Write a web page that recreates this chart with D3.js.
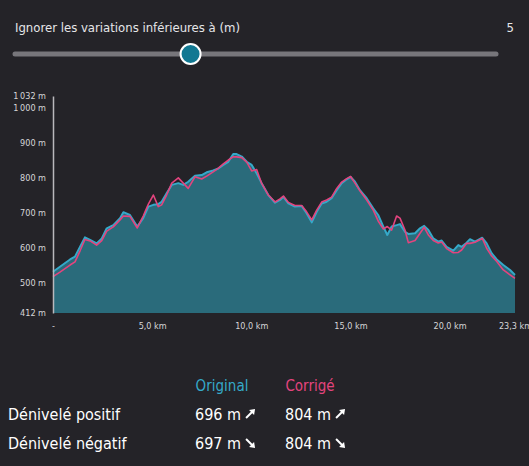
<!DOCTYPE html>
<html>
<head>
<meta charset="utf-8">
<script src="https://cdn.jsdelivr.net/npm/d3@7"></script>
<style>
  html, body { margin: 0; padding: 0; background: #242328; }
  svg { display: block; }
</style>
</head>
<body>
<div id="chart"></div>
<script>
// distances (km) of the profile samples
var distances = [0, 0.35, 0.86, 1.11, 1.36, 1.61, 1.87, 2.20, 2.46, 2.71, 3.04, 3.38, 3.55, 3.88, 4.25,
  4.55, 4.81, 5.06, 5.31, 5.48, 5.73, 5.99, 6.32, 6.57, 6.82, 7.16, 7.50, 7.75, 8.08, 8.34, 8.59, 8.84,
  9.09, 9.26, 9.52, 9.77, 10.02, 10.27, 10.52, 10.86, 11.20, 11.45, 11.62, 11.87, 12.20, 12.54, 12.79,
  13.05, 13.30, 13.55, 13.80, 14.05, 14.31, 14.56, 14.81, 15.01, 15.23, 15.48, 15.82, 16.15, 16.40,
  16.66, 16.86, 17.08, 17.33, 17.50, 17.75, 17.92, 18.26, 18.51, 18.72, 18.93, 19.18, 19.43, 19.60,
  19.85, 20.19, 20.44, 20.61, 20.86, 21.03, 21.28, 21.65, 21.87, 22.12, 22.38, 22.71, 23.05, 23.30];

// altitude (m), original profile
var original = [530, 544, 565, 573, 601, 628, 621, 611, 625, 654, 663, 683, 700, 692, 659,
  683, 716, 721, 723, 730, 754, 778, 783, 778, 787, 804, 806, 814, 819, 825, 835, 844,
  866, 866, 859, 844, 835, 811, 783, 749, 727, 735, 744, 725, 716, 718, 697,
  671, 701, 725, 730, 740, 763, 783, 794, 801, 787, 763, 740, 711, 692,
  659, 635, 659, 663, 666, 644, 638, 640, 654, 661, 649, 625, 616, 619,
  601, 590, 606, 601, 613, 623, 616, 627, 611, 583, 565, 549, 535, 521];

// altitude (m), corrected profile
var corrige = [516, 529, 549, 558, 589, 622, 618, 606, 619, 646, 658, 678, 689, 688, 655,
  689, 723, 749, 716, 721, 749, 783, 798, 783, 768, 801, 795, 803, 815, 826, 838, 849,
  858, 858, 856, 843, 818, 822, 783, 749, 729, 738, 746, 728, 719, 719, 701,
  678, 706, 729, 735, 743, 768, 786, 796, 802, 783, 761, 735, 706, 675,
  652, 659, 649, 689, 683, 649, 613, 619, 640, 657, 635, 619, 612, 615,
  596, 584, 585, 592, 611, 611, 614, 625, 597, 575, 559, 535, 521, 511];

var yTicks = [412, 500, 600, 700, 800, 900, 1000, 1032];
var xTicks = [0, 5, 10, 15, 20, 23.3];

var sliderLabel = 'Ignorer les variations inférieures à (m)';
var sliderValue = 5;
var sliderMax = 20;

var statRows = ['Dénivelé positif', 'Dénivelé négatif'];
var statOriginal = [696, 697];
var statCorrige = [804, 804];

var width = 529;
var height = 466;
var bg = '#242328';
var blue = '#35a9c9';
var pink = '#e3447e';
var areaColor = '#2a6b7b';
var font = '"DejaVu Sans Condensed", "DejaVu Sans", sans-serif';

var fr = d3.formatLocale({ decimal: ',', thousands: '\u202f', grouping: [3], currency: ['', ' €'] });

var svg = d3.select('#chart')
  .append('svg')
  .attr('width', width)
  .attr('height', height)
  .style('background', bg);

// slider
var sx = d3.scaleLinear().domain([0, sliderMax]).range([15, 496]);
svg.append('text')
  .attr('x', 15)
  .attr('y', 32)
  .attr('fill', '#e6e6e8')
  .style('font-family', font)
  .style('font-size', '13px')
  .text(sliderLabel);
svg.append('text')
  .attr('x', 514)
  .attr('y', 32)
  .attr('text-anchor', 'end')
  .attr('fill', '#e6e6e8')
  .style('font-family', font)
  .style('font-size', '13px')
  .text(sliderValue);
svg.append('line')
  .attr('x1', sx(0)).attr('x2', sx(sliderMax))
  .attr('y1', 54).attr('y2', 54)
  .attr('stroke', '#77767b')
  .attr('stroke-width', 5)
  .attr('stroke-linecap', 'round');
svg.append('circle')
  .attr('cx', sx(7.3))
  .attr('cy', 54)
  .attr('r', 10)
  .attr('fill', '#117892')
  .attr('stroke', '#fff')
  .attr('stroke-width', 2);

// profile
var x = d3.scaleLinear().domain([0, 23.3]).range([53, 515]);
var y = d3.scaleLinear().domain([412, 1032]).range([313, 96]);

var profil = distances.map(function (d, i) {
  return { km: d, o: original[i], c: corrige[i] };
});

svg.append('path')
  .datum(profil)
  .attr('fill', areaColor)
  .attr('d', d3.area()
    .x(function (d) { return x(d.km); })
    .y0(y(412))
    .y1(function (d) { return y(d.o); }));

svg.append('path')
  .datum(profil)
  .attr('fill', 'none')
  .attr('stroke', blue)
  .attr('stroke-width', 2)
  .attr('stroke-linejoin', 'round')
  .attr('d', d3.line()
    .x(function (d) { return x(d.km); })
    .y(function (d) { return y(d.o); }));

svg.append('path')
  .datum(profil)
  .attr('fill', 'none')
  .attr('stroke', pink)
  .attr('stroke-width', 1.6)
  .attr('stroke-linejoin', 'round')
  .attr('d', d3.line()
    .x(function (d) { return x(d.km); })
    .y(function (d) { return y(d.c); }));

// axes
var yAxis = d3.axisLeft(y)
  .tickValues(yTicks)
  .tickSize(0)
  .tickPadding(7)
  .tickFormat(function (d) { return fr.format(',d')(d) + ' m'; });
var gy = svg.append('g')
  .attr('transform', 'translate(53,0)')
  .call(yAxis);
gy.select('.domain').attr('stroke', '#b9b8bc').attr('stroke-width', 1.5);
gy.selectAll('text')
  .attr('fill', '#d6d6d8')
  .style('font-family', font)
  .style('font-size', '9px');

var xAxis = d3.axisBottom(x)
  .tickValues(xTicks)
  .tickSize(0)
  .tickPadding(10)
  .tickFormat(function (d) { return d === 0 ? '-' : fr.format(',.1f')(d) + ' km'; });
var gx = svg.append('g')
  .attr('transform', 'translate(0,313)')
  .call(xAxis);
gx.select('.domain').remove();
gx.selectAll('text')
  .attr('fill', '#d6d6d8')
  .style('font-family', font)
  .style('font-size', '9px');

// stats
var colX = [195, 285];
svg.append('text')
  .attr('x', 222).attr('y', 391)
  .attr('text-anchor', 'middle')
  .attr('fill', blue)
  .style('font-family', font)
  .style('font-size', '15px')
  .text('Original');
svg.append('text')
  .attr('x', 310).attr('y', 391)
  .attr('text-anchor', 'middle')
  .attr('fill', pink)
  .style('font-family', font)
  .style('font-size', '15px')
  .text('Corrigé');

function arrow(g, cx, cy, up) {
  var dy = up ? -1 : 1;
  g.append('line')
    .attr('x1', cx - 4).attr('y1', cy - 4 * dy)
    .attr('x2', cx + 2).attr('y2', cy + 2 * dy)
    .attr('stroke', '#fff')
    .attr('stroke-width', 2);
  g.append('path')
    .attr('d', 'M' + (cx + 5) + ',' + (cy + 5 * dy) +
      'L' + (cx - 1) + ',' + (cy + 4 * dy) +
      'L' + (cx + 4) + ',' + (cy - 1 * dy) + 'Z')
    .attr('fill', '#fff');
}

statRows.forEach(function (label, i) {
  var by = 420 + i * 29;
  svg.append('text')
    .attr('x', 8).attr('y', by)
    .attr('fill', '#fff')
    .style('font-family', font)
    .style('font-size', '16px')
    .text(label);
  [statOriginal[i], statCorrige[i]].forEach(function (v, j) {
    var t = svg.append('text')
      .attr('x', colX[j]).attr('y', by)
      .attr('fill', '#fff')
      .style('font-family', font)
      .style('font-size', '16px')
      .text(v + ' m');
    var w = t.node().getComputedTextLength();
    arrow(svg, colX[j] + w + 9, by - 6, i === 0);
  });
});
</script>
</body>
</html>
